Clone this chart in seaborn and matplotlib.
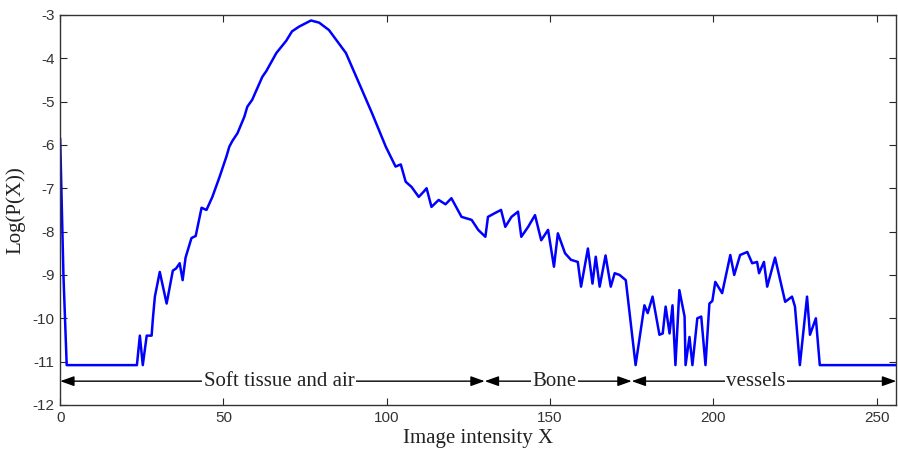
import numpy as np
import pandas as pd
import seaborn as sns
import matplotlib
matplotlib.use("Agg")
import matplotlib.pyplot as plt

# points (intensity, log probability)
intensity = [0, 1, 2, 23.5, 24.4, 25.3, 26.5, 28.0, 28.4, 29.0, 30.5, 32.6, 34.5,
             35.5, 36.6, 37.5, 38.4, 40.2, 41.5, 43.3, 44.8, 46.6, 48.8, 50.9,
             51.8, 52.8, 54.3, 56.4, 57.3, 58.8, 61.9, 63.1, 66.2, 69.2, 71.0,
             73.2, 76.8, 79.3, 82.3, 87.5, 92.4, 95.5, 99.7, 102.7, 104.3, 105.8,
             107.6, 109.8, 111.3, 112.2, 113.7, 115.9, 118.0, 119.8, 122.9, 126.0,
             128.0, 130.2, 131.0, 133.2, 135.0, 136.3, 138.2, 140.2, 141.2, 143.3,
             145.4, 147.3, 149.4, 151.2, 152.4, 154.6, 156.4, 158.5, 159.5, 161.6,
             163.0, 164.0, 165.2, 167.0, 168.6, 169.8, 171.3, 173.2, 176.2, 178.9,
             179.9, 181.4, 183.5, 184.5, 185.4, 186.6, 187.5, 188.4, 189.6, 191.2,
             191.5, 192.7, 193.6, 195.1, 196.3, 197.6, 198.8, 199.7, 200.6, 202.7,
             205.2, 206.4, 208.2, 210.4, 211.9, 213.4, 214.0, 215.5, 216.5, 218.9,
             222.0, 224.1, 225.0, 226.5, 228.7, 229.6, 231.4, 232.6, 256]
log_p = [-5.85, -9.0, -11.08, -11.08, -10.4, -11.08, -10.4, -10.4, -10.0, -9.5,
         -8.93, -9.66, -8.9, -8.85, -8.73, -9.12, -8.6, -8.15, -8.1, -7.45, -7.5,
         -7.2, -6.74, -6.27, -6.04, -5.9, -5.73, -5.35, -5.12, -4.96, -4.43, -4.3,
         -3.88, -3.6, -3.38, -3.27, -3.13, -3.18, -3.35, -3.88, -4.73, -5.27, -6.04,
         -6.5, -6.45, -6.85, -6.97, -7.2, -7.08, -7.0, -7.43, -7.27, -7.37, -7.23,
         -7.66, -7.73, -7.96, -8.12, -7.66, -7.57, -7.5, -7.89, -7.66, -7.54, -8.12,
         -7.89, -7.62, -8.2, -7.96, -8.81, -8.04, -8.5, -8.65, -8.7, -9.27, -8.39,
         -9.2, -8.58, -9.27, -8.55, -9.27, -8.96, -9.0, -9.12, -11.08, -9.7, -9.88,
         -9.5, -10.38, -10.35, -9.73, -10.35, -9.7, -11.08, -9.35, -9.96, -11.08,
         -10.43, -11.08, -10.0, -9.96, -11.08, -9.66, -9.6, -9.16, -9.42, -8.54,
         -9.0, -8.54, -8.47, -8.73, -8.7, -8.96, -8.7, -9.27, -8.6, -9.62, -9.5,
         -9.73, -11.08, -9.5, -10.38, -10.0, -11.08, -11.08]

# intensity ranges marked under the curve
region_names = ["Soft tissue and air", "Bone", "vessels"]
region_start = [0, 130, 175]
region_end = [130, 175, 256]
region_label_x = [67, 151.5, 213]
arrow_y = -11.45

df = pd.DataFrame({"x": intensity, "y": log_p})

sns.set_style("ticks")
plt.rcParams["font.family"] = ["Liberation Serif", "DejaVu Serif"]
plt.rcParams["axes.unicode_minus"] = False

fig = plt.figure(figsize=(8.98, 4.5), dpi=100)
ax = fig.add_axes([0.067, 0.10, 0.931, 0.867])

sns.lineplot(data=df, x="x", y="y", ax=ax, color="#0000ff", linewidth=1.8)

for name, x0, x1, xt in zip(region_names, region_start, region_end, region_label_x):
    ax.annotate("", xy=(x0, arrow_y), xytext=(x1, arrow_y),
                arrowprops=dict(arrowstyle="<|-|>,head_length=0.7,head_width=0.25",
                                color="black", lw=1.0,
                                mutation_scale=12, shrinkA=0, shrinkB=0))
    ax.text(xt, arrow_y, name, ha="center", va="center", fontsize=15,
            color="#222222", zorder=5,
            bbox=dict(facecolor="white", edgecolor="none", pad=1.0))

ax.set_xlim(0, 256)
ax.set_ylim(-12, -3)
ax.set_xticks([0, 50, 100, 150, 200, 250])
ax.set_yticks(np.arange(-12, -2, 1))
ax.tick_params(direction="in", top=True, right=True, length=5, width=0.8,
               labelsize=11, labelcolor="#333333", pad=4)
for lab in ax.get_xticklabels() + ax.get_yticklabels():
    lab.set_family("Liberation Sans")
for sp in ax.spines.values():
    sp.set_linewidth(1.0)
    sp.set_color("#333333")

ax.set_xlabel("Image intensity X", fontsize=15, color="#222222", labelpad=3)
ax.set_ylabel("Log(P(X))", fontsize=15, color="#222222", labelpad=5)

fig.savefig("out.png", dpi=100)
